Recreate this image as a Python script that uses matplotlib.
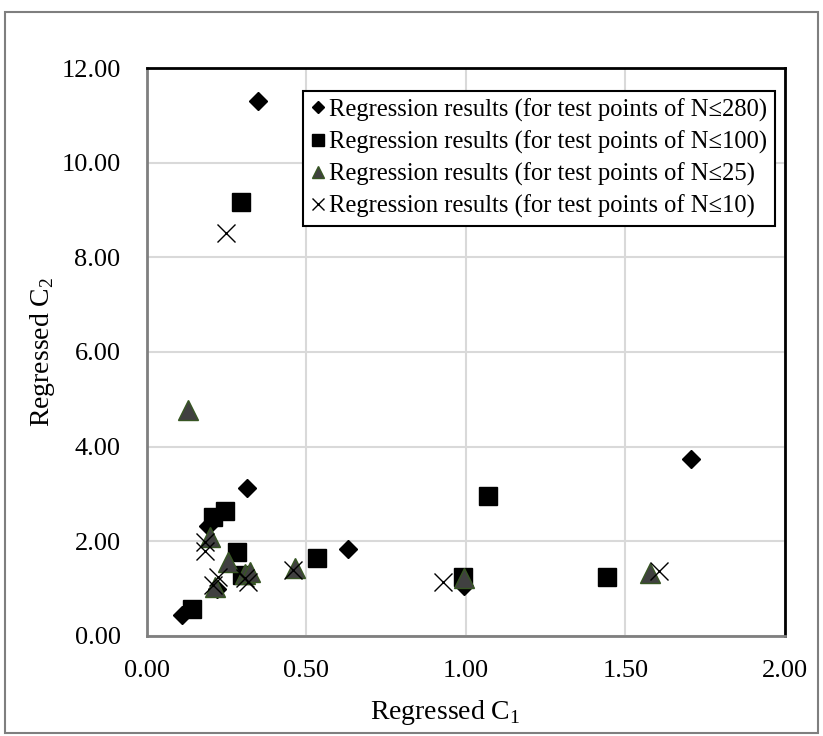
import numpy as np
import matplotlib
matplotlib.use('Agg')
import matplotlib.pyplot as plt
from matplotlib.patches import Rectangle

plt.rcParams['font.family'] = ['Liberation Serif', 'DejaVu Serif']
plt.rcParams['mathtext.fontset'] = 'custom'
plt.rcParams['mathtext.rm'] = 'Liberation Serif'

# regression results
c1_280 = [0.349, 0.312, 0.19, 0.109, 0.22, 0.631, 0.994, 1.704]
c2_280 = [11.30, 3.12, 2.32, 0.44, 1.00, 1.84, 1.05, 3.73]

c1_100 = [0.294, 0.208, 0.245, 0.281, 0.297, 0.140, 0.532, 1.07, 1.441, 0.992]
c2_100 = [9.17, 2.52, 2.63, 1.78, 1.29, 0.58, 1.64, 2.96, 1.25, 1.25]

c1_25 = [0.128, 0.197, 0.255, 0.307, 0.323, 0.213, 0.464, 0.994, 1.577]
c2_25 = [4.77, 2.10, 1.57, 1.32, 1.36, 1.04, 1.43, 1.22, 1.34]

c1_10 = [0.248, 0.182, 0.182, 0.224, 0.208, 0.307, 0.317, 0.457, 0.927, 1.606]
c2_10 = [8.52, 1.99, 1.80, 1.25, 1.08, 1.22, 1.15, 1.39, 1.13, 1.38]

labels = ['Regression results (for test points of N\u2264280)',
          'Regression results (for test points of N\u2264100)',
          'Regression results (for test points of N\u226425)',
          'Regression results (for test points of N\u226410)']

fig = plt.figure(figsize=(8.23, 7.36), dpi=100)
ax = fig.add_axes([0.1786, 0.1359, 0.7752, 0.7717])

ax.plot(c1_280, c2_280, linestyle='none', marker='D', ms=9.5, color='black', label=labels[0], zorder=3)
ax.plot(c1_100, c2_100, linestyle='none', marker='s', ms=13.5, color='black', label=labels[1], zorder=4)
ax.plot(c1_25, c2_25, linestyle='none', marker='^', ms=14, markerfacecolor='#404040',
        markeredgecolor='#375623', markeredgewidth=1.0, label=labels[2], zorder=5)
ax.plot(c1_10, c2_10, linestyle='none', marker='x', ms=13, color='black', markeredgewidth=1.0,
        label=labels[3], zorder=6)

ax.set_xlim(0, 2)
ax.set_ylim(0, 12)
ax.set_xticks(np.arange(0, 2.01, 0.5))
ax.set_yticks(np.arange(0, 12.01, 2))
ax.set_xticklabels(['%.2f' % v for v in np.arange(0, 2.01, 0.5)])
ax.set_yticklabels(['%.2f' % v for v in np.arange(0, 12.01, 2)])
ax.tick_params(axis='both', length=0, labelsize=19)
ax.tick_params(axis='x', pad=17)
ax.tick_params(axis='y', pad=19)
ax.grid(True, color='#d9d9d9', linewidth=1.5)
ax.set_axisbelow(True)

for s in ['left', 'bottom']:
    ax.spines[s].set_color('#7f7f7f')
    ax.spines[s].set_linewidth(2)
for s in ['top', 'right']:
    ax.spines[s].set_color('black')
    ax.spines[s].set_linewidth(2)

ax.set_xlabel(r'Regressed C$_\mathregular{1}$', fontsize=20, labelpad=12, x=0.467)
ax.set_ylabel(r'Regressed C$_\mathregular{2}$', fontsize=20, labelpad=3)

leg = ax.legend(loc='upper right', bbox_to_anchor=(0.984, 0.960), borderaxespad=0,
                fontsize=17.7, markerscale=0.65, handlelength=0.6, handletextpad=0.15,
                labelspacing=0.36, borderpad=0.3, fancybox=False, framealpha=1)
leg.get_frame().set_edgecolor('black')
leg.get_frame().set_linewidth(1.5)

# thin border round the whole picture
fig.patches.append(Rectangle((5 / 823, 3 / 736), 813 / 823, 721 / 736, transform=fig.transFigure,
                             fill=False, edgecolor='#7f7f7f', linewidth=1.5))

fig.savefig('out.png', dpi=100)
